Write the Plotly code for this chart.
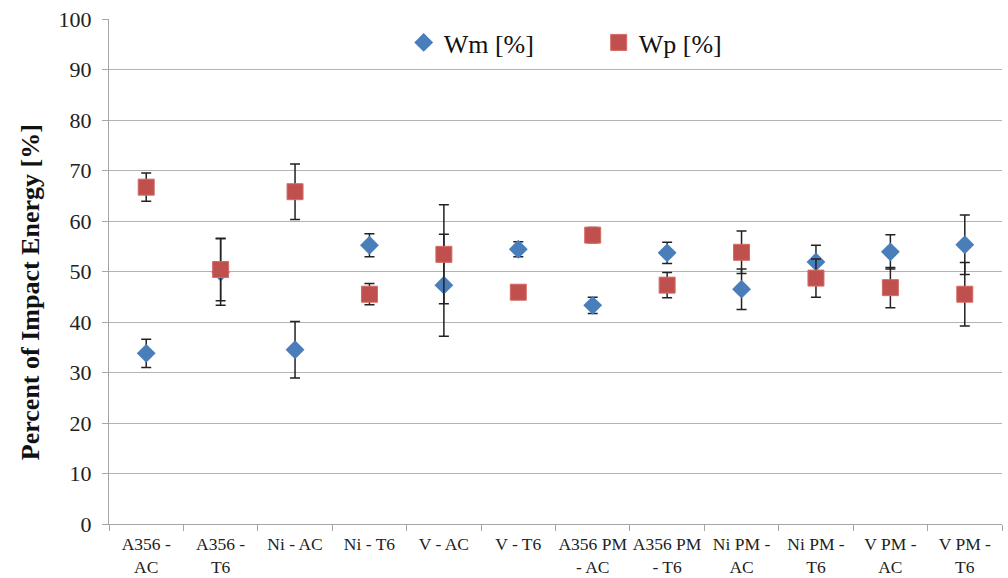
import plotly.graph_objects as go

categories = ["A356 -<br>AC", "A356 -<br>T6", "Ni - AC", "Ni - T6", "V - AC", "V - T6",
              "A356 PM<br>- AC", "A356 PM<br>- T6", "Ni PM -<br>AC", "Ni PM -<br>T6",
              "V PM -<br>AC", "V PM -<br>T6"]
wm = [33.8, 49.9, 34.5, 55.2, 47.3, 54.4, 43.3, 53.7, 46.5, 51.9, 53.9, 55.3]
wm_err = [2.8, 6.6, 5.6, 2.3, 10.1, 1.5, 1.6, 2.1, 4.0, 3.3, 3.4, 5.9]
wp = [66.7, 50.4, 65.8, 45.5, 53.4, 45.9, 57.2, 47.3, 53.8, 48.7, 46.8, 45.5]
wp_err = [2.8, 6.2, 5.5, 2.1, 9.8, 1.2, 1.5, 2.5, 4.2, 3.8, 4.0, 6.3]

font = "Liberation Serif"

fig = go.Figure()
fig.add_trace(go.Scatter(
    x=categories, y=wm, mode="markers", name="Wm [%]",
    marker=dict(symbol="diamond", size=14.5, color="#4a7ebb", line=dict(width=0)),
    error_y=dict(type="data", array=wm_err, color="#222222", thickness=1.5, width=5),
))
fig.add_trace(go.Scatter(
    x=categories, y=wp, mode="markers", name="Wp [%]",
    marker=dict(symbol="square", size=16, color="#c0504d", line=dict(width=1, color="#d46a66")),
    error_y=dict(type="data", array=wp_err, color="#222222", thickness=1.5, width=5),
))

fig.update_layout(
    width=1008, height=578,
    margin=dict(l=109, r=6, t=19, b=54),
    plot_bgcolor="white", paper_bgcolor="white",
    font=dict(family=font, color="#222222"),
    showlegend=True,
    legend=dict(orientation="h", x=0.33, xanchor="left", y=1.0, yanchor="top",
                font=dict(size=26, family=font, color="#111111"), bgcolor="rgba(0,0,0,0)",
                entrywidth=150, entrywidthmode="pixels", itemwidth=30),
    xaxis=dict(
        showgrid=False, showline=True, linecolor="#a6a6a6", linewidth=1,
        ticks="outside", tickson="boundaries", ticklen=6, tickcolor="#a6a6a6",
        tickfont=dict(size=17.5, family=font, color="#222222"),
        ticklabelstandoff=4, tickangle=0, automargin=False,
        range=[-0.5, 11.5],
    ),
    yaxis=dict(
        range=[0, 100], dtick=10, showgrid=True, gridcolor="#b3b3b3", gridwidth=1,
        showline=True, linecolor="#a6a6a6", linewidth=1,
        ticks="outside", ticklen=6, tickcolor="#a6a6a6",
        tickfont=dict(size=22, family=font, color="#222222"),
        ticklabelstandoff=6, automargin=False,
        zeroline=False,
    ),
    annotations=[dict(
        text="<b>Percent of Impact Energy [%]</b>", textangle=-90,
        xref="paper", yref="paper", x=-0.0885, y=0.459,
        xanchor="center", yanchor="middle", showarrow=False,
        font=dict(size=26, family=font, color="#111111"),
    )],
)

fig.write_html("out.html")
